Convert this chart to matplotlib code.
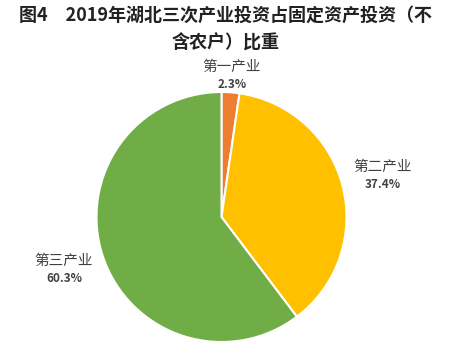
import numpy as np
import matplotlib.pyplot as plt

plt.rcParams['font.family'] = ['Noto Sans CJK SC', 'DejaVu Sans']

# 数据
categories = ["第一产业", "第二产业", "第三产业"]
shares = [2.3, 37.4, 60.3]
colors = ["#ED7D31", "#FFC000", "#70AD47"]
label_dist = [1.13, 1.33, 1.33]

W, H = 451, 356
fig = plt.figure(figsize=(W / 100, H / 100), dpi=100)

# 饼图位置（像素）
cx, cy, r = 221.5, 217, 125
ax = fig.add_axes([(cx - r) / W, (H - cy - r) / H, 2 * r / W, 2 * r / H])

wedges, _ = ax.pie(shares, colors=colors, startangle=90, counterclock=False,
                   radius=1.0, wedgeprops=dict(edgecolor="white", linewidth=1.5))
ax.set_xlim(-1, 1)
ax.set_ylim(-1, 1)
ax.set_aspect("equal")
ax.axis("off")

for w, name, val, d in zip(wedges, categories, shares, label_dist):
    ang = np.deg2rad((w.theta1 + w.theta2) / 2)
    x, y = d * np.cos(ang), d * np.sin(ang)
    ax.text(x, y + 0.07, name, ha="center", va="center", fontsize=10.5,
            color="#404040", clip_on=False)
    ax.text(x, y - 0.07, f"{val}%", ha="center", va="center", fontsize=8.5,
            color="#404040", fontweight="bold", clip_on=False)

fig.text(0.5, 1 - 15 / H, "图4　2019年湖北三次产业投资占固定资产投资（不",
         ha="center", va="center", fontsize=13, fontweight="bold", color="#222222")
fig.text(0.5, 1 - 43 / H, "含农户）比重",
         ha="center", va="center", fontsize=13, fontweight="bold", color="#222222")

fig.savefig("out.png", dpi=100)
